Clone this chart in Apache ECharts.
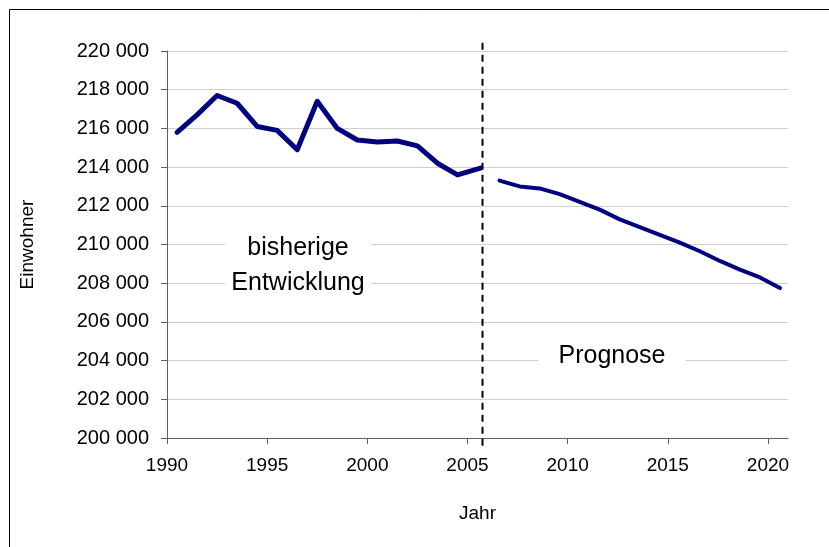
<!DOCTYPE html>
<html>
<head>
<meta charset="utf-8">
<script src="https://cdn.jsdelivr.net/npm/echarts@6/dist/echarts.min.js"></script>
<style>
  html, body { margin: 0; padding: 0; background: #fff; }
  #chart { width: 829px; height: 547px; }
</style>
</head>
<body>
<div id="chart"></div>
<script>
// bisherige Entwicklung (Position auf der Jahresachse, Einwohner)
const histX = [1990.5, 1991.5, 1992.5, 1993.5, 1994.5, 1995.5, 1996.5, 1997.5,
               1998.5, 1999.5, 2000.5, 2001.5, 2002.5, 2003.5, 2004.5, 2005.65];
const histY = [215800, 216700, 217700, 217300, 216100, 215900, 214900, 217400,
               216000, 215400, 215300, 215350, 215100, 214200, 213600, 213950];

// Prognose
const progX = [2006.6, 2007.6, 2008.6, 2009.6, 2010.6, 2011.6, 2012.6, 2013.6,
               2014.6, 2015.6, 2016.6, 2017.6, 2018.6, 2019.6, 2020.6];
const progY = [213300, 213000, 212900, 212600, 212200, 211800, 211300, 210900,
               210500, 210100, 209650, 209150, 208700, 208300, 207750];

// Trennlinie zwischen Ist und Prognose
const splitX = 2005.75;
const splitY = [199600, 220550];

const xTicks = [1990, 1995, 2000, 2005, 2010, 2015, 2020];

const font = 'Liberation Sans, Arial, sans-serif';

function pairs(xs, ys) {
    return xs.map(function (x, i) { return [x, ys[i]]; });
}

const chart = echarts.init(document.getElementById('chart'));
const option = {
    animation: false,
    backgroundColor: '#fff',
    grid: { left: 167, right: 41, top: 51, bottom: 109 },
    xAxis: {
        type: 'value',
        min: 1990,
        max: 2021,
        interval: 5,
        name: 'Jahr',
        nameLocation: 'middle',
        nameGap: 66,
        nameTextStyle: { fontFamily: font, fontSize: 19, color: '#000' },
        axisLine: { lineStyle: { color: '#606060', width: 1 } },
        axisTick: { length: 6, lineStyle: { color: '#606060' } },
        axisLabel: {
            fontFamily: font, fontSize: 19, color: '#000', margin: 18,
            showMaxLabel: false,
            formatter: function (v) { return xTicks.indexOf(v) >= 0 ? String(v) : ''; }
        },
        splitLine: { show: false }
    },
    yAxis: {
        type: 'value',
        min: 200000,
        max: 220000,
        interval: 2000,
        name: 'Einwohner',
        nameLocation: 'middle',
        nameGap: 130,
        nameTextStyle: { fontFamily: font, fontSize: 19, color: '#000' },
        axisLine: { show: true, lineStyle: { color: '#606060', width: 1 } },
        axisTick: { show: true, length: 6, lineStyle: { color: '#606060' } },
        axisLabel: {
            fontFamily: font, fontSize: 20, color: '#000', margin: 18,
            formatter: function (v) {
                return String(v).replace(/\B(?=(\d{3})+(?!\d))/g, ' ');
            }
        },
        splitLine: { lineStyle: { color: '#d0d0d0', width: 1 } }
    },
    series: [
        {
            name: 'bisherige Entwicklung',
            type: 'line',
            data: pairs(histX, histY),
            showSymbol: false,
            lineStyle: { color: '#000080', width: 5, join: 'round', cap: 'round' },
            z: 3
        },
        {
            name: 'Prognose',
            type: 'line',
            data: pairs(progX, progY),
            showSymbol: false,
            lineStyle: { color: '#000080', width: 4, join: 'round', cap: 'round' },
            z: 3
        },
        {
            name: 'Trennlinie',
            type: 'line',
            data: [[splitX, splitY[0]], [splitX, splitY[1]]],
            showSymbol: false,
            clip: false,
            silent: true,
            lineStyle: { color: '#000', width: 2, type: [7, 5] },
            z: 4
        }
    ],
    graphic: [
        {
            type: 'polyline',
            shape: { points: [[9.5, 560], [9.5, 9.5], [840, 9.5]] },
            style: { stroke: '#000', lineWidth: 1, fill: null }
        },
        {
            type: 'text', x: 298, y: 266, z: 10,
            style: {
                text: 'bisherige\nEntwicklung', font: '25px ' + font, fill: '#000',
                align: 'center', verticalAlign: 'middle', lineHeight: 35,
                backgroundColor: '#fff', padding: [6, 6]
            }
        },
        {
            type: 'text', x: 612, y: 356, z: 10,
            style: {
                text: 'Prognose', font: '25px ' + font, fill: '#000',
                align: 'center', verticalAlign: 'middle',
                backgroundColor: '#fff', padding: [6, 20]
            }
        }
    ]
};
chart.setOption(option);
</script>
</body>
</html>
